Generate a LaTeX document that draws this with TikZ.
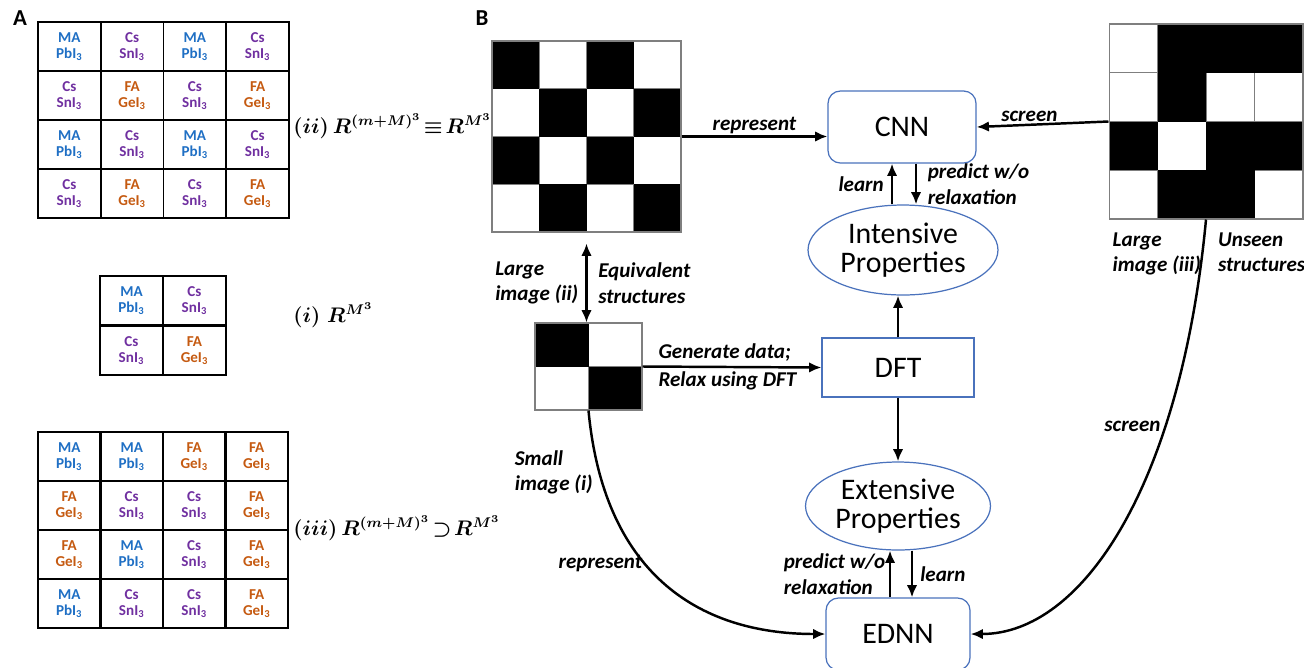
\documentclass[tikz,border=0pt]{standalone}
\usepackage[no-math]{fontspec}
\setmainfont{Carlito}
\usepackage{amsmath}
\usetikzlibrary{arrows.meta,positioning,shapes.geometric}
\definecolor{mablue}{HTML}{1F6FC4}
\definecolor{cspurple}{HTML}{7030A0}
\definecolor{faorange}{HTML}{C55A11}
\definecolor{netblue}{HTML}{4A72BC}
\definecolor{gridgrey}{HTML}{7F7F7F}
\newcommand{\cellma}{MA\\PbI\textsubscript{3}}
\newcommand{\cellcs}{Cs\\SnI\textsubscript{3}}
\newcommand{\cellfa}{FA\\GeI\textsubscript{3}}
\newcommand{\labi}{$\boldsymbol{(i)\;R^{M^3}}$}
\newcommand{\labii}{$\boldsymbol{(ii)\,R^{(m+M)^3}\!\equiv\!R^{M^3}}$}
\newcommand{\labiii}{$\boldsymbol{(iii)\,R^{(m+M)^3}\!\supset\!R^{M^3}}$}

\begin{document}
\begin{tikzpicture}[x=0.02cm,y=-0.02cm,
  cell/.style={draw,line width=1.1pt,minimum width=1.255cm,minimum height=0.98cm,
    inner sep=0pt,align=center,font=\fontsize{8.6}{9.3}\selectfont\bfseries},
  ma/.style={cell,text=mablue},
  cs/.style={cell,text=cspurple},
  fa/.style={cell,text=faorange},
  setlbl/.style={anchor=base west,inner sep=0pt,font=\fontsize{11.5}{14}\selectfont},
  panel/.style={font=\fontsize{13}{15}\selectfont\bfseries},
  net/.style={draw=netblue,line width=0.7pt,align=center,
    font=\fontsize{17}{16.5}\selectfont},
  board/.style={draw=gridgrey,line width=0.6pt,inner sep=0pt},
  sq/.style={draw=gridgrey,line width=0.5pt},
  lbl/.style={font=\fontsize{12}{14.5}\selectfont\bfseries\itshape,align=left,inner sep=1pt},
  arr/.style={line width=1.4pt,-{Latex[length=7pt,width=6pt]}},
  darr/.style={line width=1.4pt,{Latex[length=7pt,width=6pt]}-{Latex[length=7pt,width=6pt]}},
]
\path[use as bounding box] (0,0) rectangle (1304,667);
\clip (0,0) rectangle (1304,667);

% A: the three tables of compositions
\node[panel] (labA) at (20,18) {A};
\foreach \row [count=\j] in {{ma,cs,ma,cs},{cs,fa,cs,fa},{ma,cs,ma,cs},{cs,fa,cs,fa}}{
  \foreach \k [count=\i] in \row{
    \node[\k] (tii-\j-\i) at ({38+(\i-0.5)*62.75},{22+(\j-0.5)*49}) {\csname cell\k\endcsname};
  }
}
\foreach \row [count=\j] in {{ma,cs},{cs,fa}}{
  \foreach \k [count=\i] in \row{
    \node[\k] (ti-\j-\i) at ({100+(\i-0.5)*63},{276+(\j-0.5)*49.5}) {\csname cell\k\endcsname};
  }
}
\foreach \row [count=\j] in {{ma,ma,fa,fa},{fa,cs,cs,fa},{fa,ma,cs,fa},{ma,cs,cs,fa}}{
  \foreach \k [count=\i] in \row{
    \node[\k] (tiii-\j-\i) at ({38+(\i-0.5)*62.5},{432+(\j-0.5)*49}) {\csname cell\k\endcsname};
  }
}

\node[setlbl] (setii) at (293,133) {\labii};
\node[setlbl] (seti) at (293,322) {\labi};
\node[setlbl] (setiii) at (293,535) {\labiii};

% B: images
\node[panel] (labB) at (482,18) {B};
\foreach \c in {0,...,3} \foreach \r in {0,...,3}
  \draw[sq] ({492+\c*47.25},{41+\r*47.75}) rectangle +(47.25,47.75);
\foreach \c/\r in {0/0,2/0,1/1,3/1,0/2,2/2,1/3,3/3}
  \fill ({492+\c*47.25},{41+\r*47.75}) rectangle +(47.25,47.75);
\node[board,minimum width=3.78cm,minimum height=3.82cm] (imgii) at (586.5,136.5) {};

\foreach \c in {0,1} \foreach \r in {0,1}
  \draw[sq] ({535+\c*53.5},{323+\r*43.5}) rectangle +(53.5,43.5);
\foreach \c/\r in {0/0,1/1}
  \fill ({535+\c*53.5},{323+\r*43.5}) rectangle +(53.5,43.5);
\node[board,minimum width=2.14cm,minimum height=1.74cm] (imgi) at (588.5,366.5) {};

\foreach \c in {0,...,3} \foreach \r in {0,...,3}
  \draw[sq] ({1109+\c*48.5},{24+\r*48.75}) rectangle +(48.5,48.75);
\foreach \c/\r in {1/0,2/0,3/0,1/1,0/2,2/2,3/2,1/3,2/3}
  \fill ({1109+\c*48.5},{24+\r*48.75}) rectangle +(48.5,48.75);
\node[board,minimum width=3.88cm,minimum height=3.9cm] (imgiii) at (1206,121.5) {};

% networks and properties
\node[net,rounded corners=7pt,minimum width=2.96cm,minimum height=1.44cm] (cnn) at (902,127) {CNN};
\node[net,ellipse,inner sep=0pt,minimum width=3.8cm,minimum height=1.8cm] (intp) at (903,250) {Intensive\\Properties};
\node[net,minimum width=3.04cm,minimum height=1.18cm] (dft) at (898,367.5) {DFT};
\node[net,ellipse,inner sep=0pt,minimum width=3.7cm,minimum height=1.76cm] (extp) at (898,506) {Extensive\\Properties};
\node[net,rounded corners=7pt,minimum width=2.88cm,minimum height=1.44cm] (ednn) at (898,634) {EDNN};

\draw[arr] (imgii.east) -- node[lbl,above] {represent} (imgii.east -| cnn.west);
\draw[arr] (imgiii.west) -- node[lbl,above,pos=0.6] {screen} (cnn.east);
\draw[arr] ([xshift=-0.22cm]intp.north) -- node[lbl,left=3pt] {learn} ([xshift=-0.22cm]intp.north |- cnn.south);
\draw[arr] ([xshift=0.26cm]intp.north |- cnn.south) -- node[lbl,right=5pt] {predict w/o\\relaxation} ([xshift=0.26cm]intp.north);
\draw[arr] (dft.north) -- (dft.north |- intp.south);
\draw[arr] (dft.south) -- (extp.north);
\draw[arr] ([xshift=-0.16cm]ednn.north) -- node[lbl,left=1pt] {predict w/o\\relaxation} ([xshift=-0.16cm]ednn.north |- extp.south);
\draw[arr] ([xshift=0.28cm]extp.south) -- node[lbl,right=3pt] {learn} ([xshift=0.28cm]extp.south |- ednn.north);

\draw[darr] ([yshift=-0.22cm]imgii.south) -- node[lbl,left=3pt] {Large\\image (ii)}
  node[lbl,right=5pt] {Equivalent\\structures} (imgii.south |- imgi.north);
\draw[arr] (imgi.east) -- node[lbl,pos=0,anchor=south west,xshift=0.26cm,yshift=1pt] {Generate data;}
  node[lbl,pos=0,anchor=north west,xshift=0.26cm,yshift=-1pt] {Relax using DFT} (dft.west);

\draw[arr] (imgi.south) .. controls +(15,160) and +(-130,0) ..
  node[lbl,pos=0.14,left=2pt] {Small\\image (i)}
  node[lbl,pos=0.42,left=0pt] {represent} (ednn.west);
\draw[arr] (imgiii.south) .. controls +(-25,265) and +(112,0) ..
  node[lbl,pos=0.3,left=1pt] {screen} (ednn.east);
\node[lbl,anchor=north east] (bigiii) at ([xshift=-0.06cm,yshift=-0.22cm]imgiii.south) {Large\\image (iii)};
\node[lbl,anchor=north west] (unseen) at ([xshift=0.2cm,yshift=-0.22cm]imgiii.south) {Unseen\\structures};
\end{tikzpicture}
\end{document}
